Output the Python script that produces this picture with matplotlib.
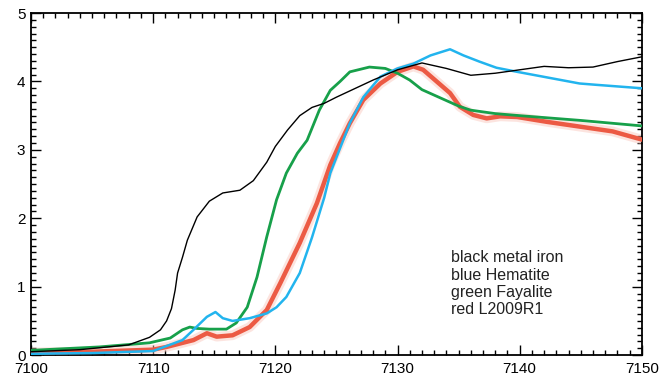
import matplotlib.pyplot as plt
from matplotlib.ticker import MultipleLocator

plt.rcParams['font.family'] = ['Liberation Sans', 'DejaVu Sans']

# black: metal iron
black_x = [7100, 7104, 7108, 7109.7, 7110.6, 7111.1, 7111.5, 7111.8, 7112.0, 7112.4, 7112.8,
           7113.6, 7114.6, 7115.7, 7117.1, 7118.2, 7119.3, 7120, 7121, 7122, 7123, 7124, 7125,
           7128, 7130, 7132, 7134, 7136, 7138, 7140, 7142, 7144, 7146, 7148, 7150]
black_y = [0.05, 0.08, 0.15, 0.26, 0.37, 0.5, 0.68, 0.95, 1.2, 1.43, 1.68,
           2.02, 2.25, 2.37, 2.41, 2.55, 2.82, 3.05, 3.29, 3.5, 3.62, 3.68, 3.77,
           4.02, 4.17, 4.27, 4.19, 4.09, 4.12, 4.17, 4.22, 4.2, 4.21, 4.29, 4.36]

# blue: hematite
blue_x = [7100, 7105, 7110, 7112.4, 7113.3, 7114.4, 7115.1, 7115.7, 7116.5, 7117.9, 7119.3,
          7120.1, 7120.9, 7122, 7123, 7124, 7124.5, 7126.1, 7127.2, 7128.6, 7130, 7131.3,
          7132.7, 7134.3, 7135.4, 7136.7, 7138.1, 7139.8, 7142.2, 7144.9, 7146.3, 7150]
blue_y = [0.02, 0.03, 0.06, 0.22, 0.37, 0.56, 0.63, 0.54, 0.5, 0.54, 0.61,
          0.7, 0.85, 1.2, 1.72, 2.3, 2.66, 3.39, 3.77, 4.07, 4.19, 4.26,
          4.38, 4.47, 4.38, 4.29, 4.2, 4.14, 4.06, 3.97, 3.95, 3.9]

# green: fayalite
green_x = [7100, 7105.6, 7109.7, 7111.4, 7112.4, 7113, 7113.6, 7114.6, 7116, 7116.8, 7117.7,
           7118.5, 7119.3, 7120.1, 7120.9, 7121.8, 7122.6, 7123.6, 7124.5, 7125.3, 7126.1,
           7127.7, 7129, 7130, 7131, 7132, 7134, 7135, 7136, 7138, 7140, 7145, 7150]
green_y = [0.07, 0.12, 0.18, 0.25, 0.37, 0.41, 0.39, 0.38, 0.38, 0.47, 0.7,
           1.14, 1.73, 2.27, 2.66, 2.95, 3.14, 3.58, 3.87, 4.0, 4.14,
           4.21, 4.19, 4.12, 4.02, 3.88, 3.72, 3.64, 3.58, 3.53, 3.5, 3.43, 3.35]

# red: L2009R1
red_x = [7100, 7105, 7110, 7111.1, 7113.3, 7114.4, 7115.2, 7116.5, 7117.9, 7119.3, 7120.4,
         7122, 7123.4, 7124.5, 7125.3, 7126.1, 7127.2, 7128.6, 7130, 7131.3, 7132.1, 7133.2,
         7134.3, 7135.1, 7136.2, 7137.3, 7138.4, 7139.8, 7142.2, 7144.9, 7147.6, 7150]
red_y = [0.04, 0.05, 0.08, 0.12, 0.22, 0.32, 0.27, 0.29, 0.41, 0.66, 1.05,
         1.64, 2.22, 2.78, 3.1, 3.39, 3.73, 3.97, 4.14, 4.22, 4.17, 4.0,
         3.83, 3.63, 3.51, 3.46, 3.49, 3.48, 3.41, 3.34, 3.27, 3.15]

legend_lines = ["black metal iron", "blue Hematite", "green Fayalite", "red L2009R1"]

fig = plt.figure(figsize=(6.59, 3.77), dpi=100)
ax = fig.add_axes([0.047, 0.058, 0.927, 0.9075])

ax.plot(black_x, black_y, color='black', lw=1.0, zorder=5)
ax.plot(red_x, red_y, color='#f9c4ba', lw=7, alpha=0.45, solid_capstyle='round', zorder=2)
ax.plot(red_x, red_y, color='#ec5a44', lw=3.2, zorder=3)
ax.plot(green_x, green_y, color='#17a04a', lw=2.0, zorder=4)
ax.plot(blue_x, blue_y, color='#22b4ee', lw=1.8, zorder=4)

ax.set_xlim(7100, 7150)
ax.set_ylim(0, 5)
ax.xaxis.set_major_locator(MultipleLocator(10))
ax.xaxis.set_minor_locator(MultipleLocator(1))
ax.yaxis.set_major_locator(MultipleLocator(1))
ax.yaxis.set_minor_locator(MultipleLocator(0.1))
ax.tick_params(which='both', direction='in', top=True, right=True, labelsize=11, width=1.0)
ax.tick_params(which='major', length=7)
ax.tick_params(which='minor', length=3.5)
ax.tick_params(axis='x', which='major', pad=5)
ax.tick_params(axis='y', which='major', pad=4)
for s in ax.spines.values():
    s.set_linewidth(1.3)

ax.text(7134.4, 0.55, "\n".join(legend_lines), fontsize=11.5, color='#222222',
        va='bottom', ha='left', linespacing=1.2)

fig.savefig("out.png", dpi=100)
